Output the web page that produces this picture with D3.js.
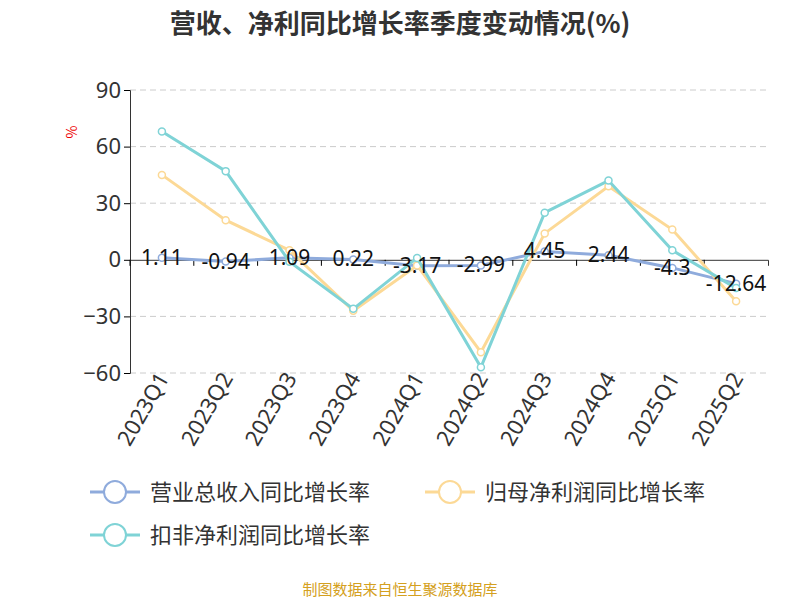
<!DOCTYPE html>
<html><head><meta charset="utf-8">
<script src="https://cdn.jsdelivr.net/npm/d3@7"></script>
<style>body{margin:0;background:#fff;font-family:"Noto Sans CJK SC","Noto Sans",sans-serif}</style>
</head><body><div id="chart"></div>
<script>
var quarters = ["2023Q1","2023Q2","2023Q3","2023Q4","2024Q1","2024Q2","2024Q3","2024Q4","2025Q1","2025Q2"];
var revenue = [1.11, -0.94, 1.09, 0.22, -3.17, -2.99, 4.45, 2.44, -4.3, -12.64];
var netProfit = [45, 21, 5, -27, -3, -49, 14, 39, 16, -22];
var deducted = [68, 47, -1, -26, 1, -57, 25, 42, 5, -15];
var yTicks = [-60, -30, 0, 30, 60, 90];
var seriesNames = ["营业总收入同比增长率", "归母净利润同比增长率", "扣非净利润同比增长率"];
var colors = ["#8fabdc", "#fcd996", "#7fd3d6"];

var width = 800, height = 600;
var svg = d3.select("#chart").append("svg").attr("width", width).attr("height", height);

svg.append("text").attr("x", 400).attr("y", 33).attr("text-anchor", "middle")
  .attr("font-size", 26).attr("font-weight", "bold").attr("fill", "#333")
  .text("营收、净利同比增长率季度变动情况(%)");

var x = d3.scaleBand().domain(quarters).range([130, 768]);
var y = d3.scaleLinear().domain([-60, 90]).range([373, 90]);
var cx = function(d, i) { return x(quarters[i]) + x.bandwidth() / 2; };

// grid
svg.selectAll(".grid").data(yTicks.filter(function(t){ return t !== 0; })).enter().append("line")
  .attr("x1", 130).attr("x2", 768).attr("y1", y).attr("y2", y)
  .attr("stroke", "#ccc").attr("stroke-dasharray", "6,4");

var yaxis = svg.append("g").attr("transform", "translate(130,0)")
  .call(d3.axisLeft(y).tickValues(yTicks).tickSize(6));
yaxis.select(".domain").attr("stroke", "#333");
yaxis.selectAll("text").attr("font-size", 22).attr("fill", "#333").attr("font-family", "Noto Sans");

var xaxis = svg.append("g").attr("transform", "translate(0," + y(0) + ")")
  .call(d3.axisBottom(x).tickSize(6).tickFormat(""));
xaxis.select(".domain").attr("stroke", "#333");
xaxis.selectAll("line").attr("x1", -x.bandwidth()/2).attr("x2", -x.bandwidth()/2);

svg.selectAll(".xl").data(quarters).enter().append("text")
  .attr("transform", function(d) { return "translate(" + (x(d) + x.bandwidth()/2 + 8) + ",378) rotate(-60)"; })
  .attr("text-anchor", "end").attr("font-size", 22).attr("fill", "#333").attr("font-family", "Noto Sans")
  .text(function(d) { return d; });

svg.append("text").attr("transform", "translate(77,132) rotate(-90)").attr("text-anchor", "middle")
  .attr("font-size", 14).attr("fill", "#e00").text("%");

var line = d3.line().x(cx).y(function(d) { return y(d); });
[revenue, netProfit, deducted].forEach(function(s, k) {
  svg.append("path").datum(s).attr("d", line).attr("fill", "none")
    .attr("stroke", colors[k]).attr("stroke-width", 3);
  svg.selectAll(".p" + k).data(s).enter().append("circle")
    .attr("cx", cx).attr("cy", function(d) { return y(d); }).attr("r", 3.5)
    .attr("fill", "#fff").attr("stroke", colors[k]).attr("stroke-width", 1.5);
});

svg.selectAll(".lbl").data(revenue).enter().append("text")
  .attr("x", cx).attr("y", function(d) { return y(d) + 7; })
  .attr("text-anchor", "middle").attr("font-size", 21).attr("fill", "#111").attr("font-family", "Noto Sans")
  .text(function(d) { return d; });

var legendPos = [[90, 492], [425, 492], [90, 535]];
seriesNames.forEach(function(n, k) {
  var g = svg.append("g").attr("transform", "translate(" + legendPos[k][0] + "," + legendPos[k][1] + ")");
  g.append("line").attr("x1", 0).attr("x2", 50).attr("stroke", colors[k]).attr("stroke-width", 3);
  g.append("circle").attr("cx", 25).attr("r", 11).attr("fill", "#fff").attr("stroke", colors[k]).attr("stroke-width", 2);
  g.append("text").attr("x", 60).attr("y", 8).attr("font-size", 22).attr("fill", "#333").text(n);
});

svg.append("text").attr("x", 400).attr("y", 595).attr("text-anchor", "middle")
  .attr("font-size", 15).attr("fill", "#d4a020").text("制图数据来自恒生聚源数据库");
</script></body></html>
